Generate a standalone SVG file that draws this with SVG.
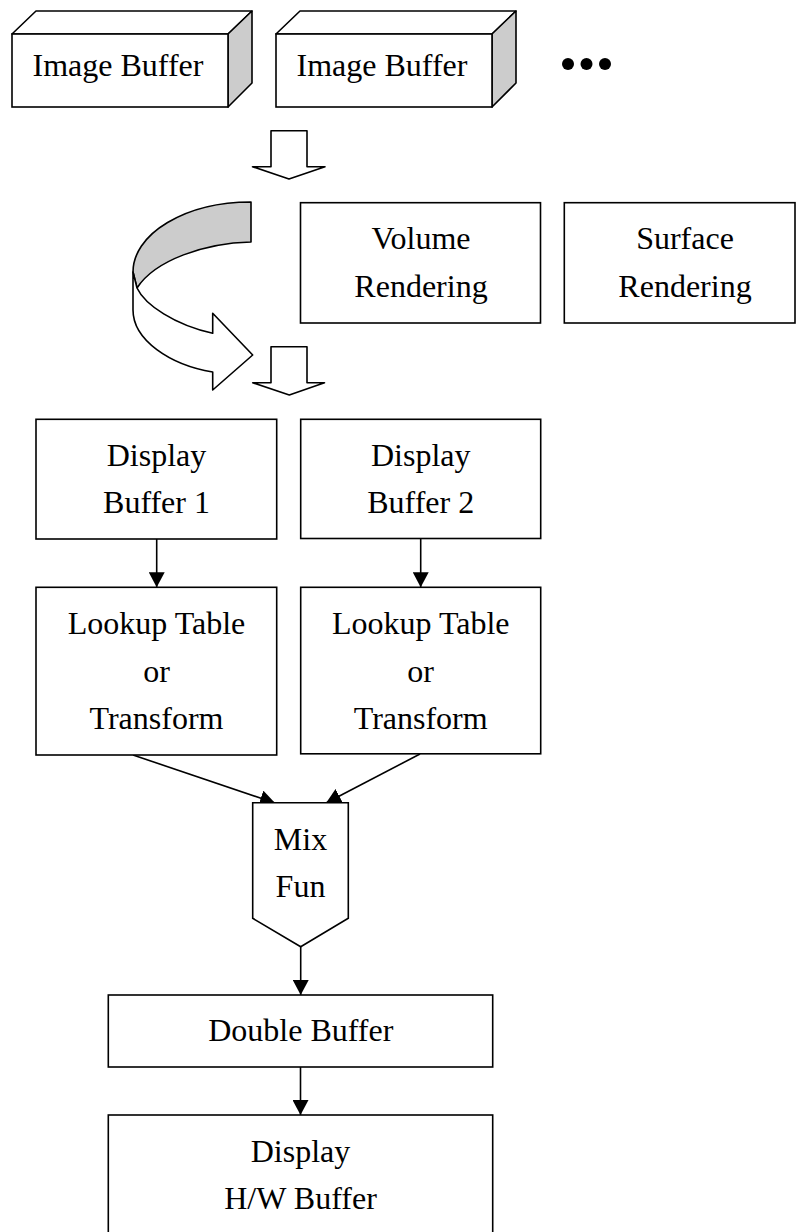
<svg xmlns="http://www.w3.org/2000/svg" width="796" height="1232" viewBox="0 0 796 1232">
  <style>
    .box { fill: #ffffff; stroke: #000000; stroke-width: 1.6; }
    .side { fill: #cccccc; stroke: #000000; stroke-width: 1.6; stroke-linejoin: round; }
    .face { fill: #ffffff; stroke: #000000; stroke-width: 1.6; stroke-linejoin: round; }
    .link { fill: none; stroke: #000000; stroke-width: 1.6; }
    .label { font-family: "Liberation Serif", "Times New Roman", serif; font-size: 32px; fill: #000000; text-anchor: middle; }
  </style>
  <defs>
    <marker id="head" markerUnits="userSpaceOnUse" markerWidth="16" markerHeight="16" refX="15" refY="8" orient="auto">
      <path d="M0,0 L15,8 L0,16 Z" fill="#000000"/>
    </marker>
  </defs>

  <rect width="796" height="1232" fill="#ffffff"/>

  <!-- connectors (drawn first so node fills sit on top of the arrow tips) -->
  <g id="connectors">
    <!-- hollow block arrows -->
    <path class="face" d="M271,130.7 H307 V166.7 H325 L289,179 L252.5,166.7 H271 Z"/>
    <path class="face" d="M271,346.7 H307 V382.7 H324.5 L289.3,395 L252.7,382.7 H271 Z"/>
    <!-- curled ribbon arrow: inner (shaded) face and front face -->
    <path class="side" d="M251,202 A118,70 0 0 0 133,272 L137,288 C155,260 205,243 251,242 Z"/>
    <path class="face" d="M133,272 L137,288 C145,305 175,325 212.7,333.3 L212.7,313.3 L252.7,355 L212.7,390 L212.7,372 C170,365 133,340 133,310 Z"/>
    <!-- line arrows -->
    <line class="link" x1="156.7" y1="539" x2="156.7" y2="587.3" marker-end="url(#head)"/>
    <line class="link" x1="420.7" y1="538.5" x2="420.7" y2="587.3" marker-end="url(#head)"/>
    <line class="link" x1="133" y1="755" x2="275" y2="803" marker-end="url(#head)"/>
    <line class="link" x1="420" y1="754" x2="326" y2="803" marker-end="url(#head)"/>
    <line class="link" x1="300.7" y1="946.7" x2="300.7" y2="995" marker-end="url(#head)"/>
    <line class="link" x1="300.5" y1="1067" x2="300.5" y2="1115" marker-end="url(#head)"/>
  </g>

  <!-- image buffers drawn as 3D blocks -->
  <g id="image-buffer-1">
    <path class="face" d="M12,34 L36,11 L252,11 L228,34 Z"/>
    <path class="side" d="M228,34 L252,11 L252,83 L228,107 Z"/>
    <rect class="box" x="12" y="34" width="216" height="73"/>
    <text class="label" x="118" y="76">Image Buffer</text>
  </g>
  <g id="image-buffer-2">
    <path class="face" d="M276,34 L300,11 L516,11 L492,34 Z"/>
    <path class="side" d="M492,34 L516,11 L516,83 L492,107 Z"/>
    <rect class="box" x="276" y="34" width="216" height="73"/>
    <text class="label" x="382" y="76">Image Buffer</text>
  </g>
  <g id="more-buffers">
    <circle cx="568" cy="64" r="6"/>
    <circle cx="586.5" cy="64" r="6"/>
    <circle cx="605" cy="64" r="6"/>
  </g>

  <g id="volume-rendering">
    <rect class="box" x="300.5" y="202.7" width="240" height="120.3"/>
    <text class="label" x="421" y="249">Volume</text>
    <text class="label" x="421" y="297">Rendering</text>
  </g>
  <g id="surface-rendering">
    <rect class="box" x="564.3" y="202.7" width="230.7" height="120.3"/>
    <text class="label" x="685" y="249">Surface</text>
    <text class="label" x="685" y="297">Rendering</text>
  </g>

  <g id="display-buffer-1">
    <rect class="box" x="36" y="419.3" width="240.7" height="119.7"/>
    <text class="label" x="156.5" y="466">Display</text>
    <text class="label" x="156.5" y="513">Buffer 1</text>
  </g>
  <g id="display-buffer-2">
    <rect class="box" x="300.7" y="419.3" width="240" height="119.2"/>
    <text class="label" x="420.7" y="466">Display</text>
    <text class="label" x="420.7" y="513">Buffer 2</text>
  </g>

  <g id="lookup-1">
    <rect class="box" x="36" y="587.3" width="240.7" height="167.7"/>
    <text class="label" x="156.5" y="634.3">Lookup Table</text>
    <text class="label" x="156.5" y="681.7">or</text>
    <text class="label" x="156.5" y="729.3">Transform</text>
  </g>
  <g id="lookup-2">
    <rect class="box" x="300.7" y="587.3" width="240" height="166.5"/>
    <text class="label" x="420.7" y="634.3">Lookup Table</text>
    <text class="label" x="420.7" y="681.7">or</text>
    <text class="label" x="420.7" y="729.3">Transform</text>
  </g>

  <g id="mix-fun">
    <path class="box" d="M252.7,802.7 H348.3 V918.3 L300.7,946.7 L252.7,918.3 Z" stroke-linejoin="miter"/>
    <text class="label" x="300.5" y="850">Mix</text>
    <text class="label" x="300.5" y="897.3">Fun</text>
  </g>

  <g id="double-buffer">
    <rect class="box" x="108.3" y="995" width="384.4" height="72"/>
    <text class="label" x="300.8" y="1041">Double Buffer</text>
  </g>

  <g id="hw-buffer">
    <rect class="box" x="108.3" y="1115" width="384.4" height="130"/>
    <text class="label" x="300.5" y="1161.7">Display</text>
    <text class="label" x="300.5" y="1209.3">H/W Buffer</text>
  </g>
</svg>
